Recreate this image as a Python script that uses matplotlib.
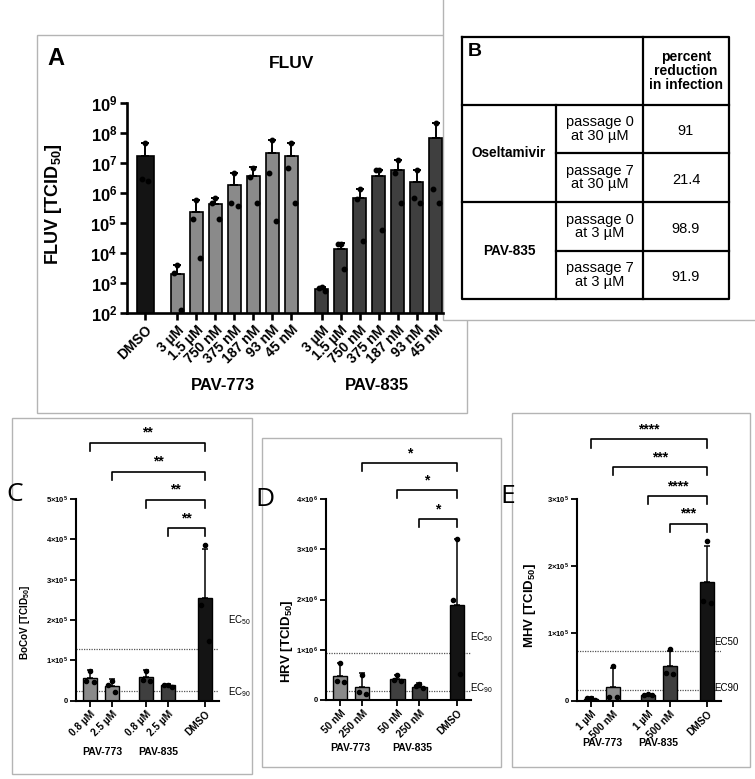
# -*- coding:utf-8 -*-
import numpy as np
import matplotlib
matplotlib.use('Agg')
from matplotlib import pyplot as plt
from matplotlib.patches import Rectangle
from matplotlib.ticker import NullLocator

# 字体设置
plt.rcParams['font.family'] = ['Liberation Sans', 'DejaVu Sans']
plt.rcParams['mathtext.fontset'] = 'custom'
plt.rcParams['mathtext.rm'] = 'Liberation Sans'
plt.rcParams['mathtext.bf'] = 'Liberation Sans:bold'
plt.rcParams['mathtext.it'] = 'Liberation Sans:italic'

# ---------------- 数据 ----------------
# A: FLUV
fluv_doses = ['3 µM', '1.5 µM', '750 nM', '375 nM', '187 nM', '93 nM', '45 nM']
fluv_dmso_mean = 1.75e7
fluv_dmso_top = 4.5e7
fluv_dmso_pts = [4.7e7, 3.0e6, 2.5e6]
fluv_773_mean = [2.0e3, 2.4e5, 4.3e5, 1.8e6, 3.6e6, 2.1e7, 1.75e7]
fluv_773_top = [3.9e3, 5.9e5, 7.0e5, 4.5e6, 7.1e6, 5.8e7, 4.5e7]
fluv_773_pts = [[3.9e3, 2.1e3, 1.3e2], [5.9e5, 1.35e5, 7.0e3], [7.0e5, 4.6e5, 1.35e5],
                [4.5e6, 4.6e5, 3.7e5], [7.0e6, 3.5e6, 4.6e5], [5.8e7, 4.5e6, 1.2e5],
                [4.5e7, 6.9e6, 4.6e5]]
fluv_835_mean = [6.3e2, 1.4e4, 6.9e5, 3.8e6, 6.0e6, 2.3e6, 6.8e7]
fluv_835_top = [7.2e2, 2.1e4, 1.4e6, 5.8e6, 1.3e7, 5.7e6, 2.1e8]
fluv_835_pts = [[7.2e2, 6.6e2, 5.6e2], [2.0e4, 2.0e4, 3.0e3], [1.4e6, 6.5e5, 2.5e4],
                [5.7e6, 5.7e6, 5.9e4], [1.3e7, 4.5e6, 4.6e5], [5.7e6, 7.0e5, 4.8e5],
                [2.1e8, 1.35e6, 4.6e5]]

# B: 表格
tab_header = 'percent\nreduction\nin infection'
tab_drugs = ['Oseltamivir', 'PAV-835']
tab_conds = ['passage 0\nat 30 µM', 'passage 7\nat 30 µM', 'passage 0\nat 3 µM', 'passage 7\nat 3 µM']
tab_values = ['91', '21.4', '98.9', '91.9']

# C: BoCoV
bocov_labels = ['0.8 µM', '2.5 µM', '0.8 µM', '2.5 µM', 'DMSO']
bocov_mean = [5.7e4, 3.7e4, 5.8e4, 3.8e4, 2.55e5]
bocov_top = [7.6e4, 5.4e4, 7.6e4, 4.1e4, 3.77e5]
bocov_pts = [[7.4e4, 4.9e4, 4.6e4], [5.0e4, 3.9e4, 2.2e4], [7.4e4, 5.1e4, 5.0e4],
             [4.0e4, 3.9e4, 3.5e4], [3.85e5, 2.37e5, 1.47e5]]
bocov_ec = [1.28e5, 2.5e4]
bocov_sig = ['**', '**', '**', '**']

# D: HRV
hrv_labels = ['50 nM', '250 nM', '50 nM', '250 nM', 'DMSO']
hrv_mean = [4.8e5, 2.6e5, 4.2e5, 2.6e5, 1.89e6]
hrv_top = [7.4e5, 5.3e5, 5.0e5, 3.3e5, 3.2e6]
hrv_pts = [[7.4e5, 3.75e5, 3.6e5], [5.0e5, 1.6e5, 1.2e5], [5.0e5, 4.0e5, 3.7e5],
           [3.2e5, 2.7e5, 2.3e5], [3.2e6, 2.0e6, 5.2e5]]
hrv_ec = [9.4e5, 1.85e5]
hrv_sig = ['*', '*', '*']

# E: MHV
mhv_labels = ['1 µM', '500 nM', '1 µM', '500 nM', 'DMSO']
mhv_mean = [3.0e3, 2.1e4, 9.0e3, 5.1e4, 1.77e5]
mhv_top = [5.0e3, 4.8e4, 1.0e4, 7.4e4, 2.3e5]
mhv_pts = [[4.5e3, 4.0e3, 5.0e2], [5.2e4, 6.0e3, 6.0e3], [9.5e3, 9.0e3, 8.5e3],
           [7.7e4, 4.1e4, 3.9e4], [2.37e5, 1.48e5, 1.46e5]]
mhv_ec = [7.4e4, 1.6e4]
mhv_sig = ['****', '***', '****', '***']

# ---------------- 画布 ----------------
W, H = 755, 779
fig = plt.figure(figsize=(W / 100, H / 100), dpi=100)


def rect(l, t, r, b):
    """像素框 -> figure 坐标"""
    return [l / W, 1 - b / H, (r - l) / W, (b - t) / H]


# 底层叠加坐标系（像素坐标），画边框、表格和面板字母
ov = fig.add_axes([0, 0, 1, 1], zorder=-1)
ov.set_xlim(0, W)
ov.set_ylim(H, 0)
ov.axis('off')
box_c = '#b4b4b4'
ov.add_patch(Rectangle((37, 35), 430, 378, fill=False, ec=box_c, lw=1, zorder=1))
ov.add_patch(Rectangle((443, -2), 320, 322, fc='white', ec=box_c, lw=1, zorder=2))
ov.add_patch(Rectangle((12, 418), 240, 356, fill=False, ec=box_c, lw=1, zorder=1))
ov.add_patch(Rectangle((262, 438), 239, 329, fill=False, ec=box_c, lw=1, zorder=1))
ov.add_patch(Rectangle((512, 413), 238, 354, fill=False, ec=box_c, lw=1, zorder=1))

# ---------------- A ----------------
dark = '#3f3f3f'
light = '#8a8a8a'
black = '#141414'

ax = fig.add_axes(rect(127, 103, 443, 313), facecolor='none')
ax.set_yscale('log')
x_dmso = np.array([0.0])
x773 = 1.7 + np.arange(len(fluv_doses))
x835 = 9.3 + np.arange(len(fluv_doses))
groups = [(x_dmso, [fluv_dmso_mean], [fluv_dmso_top], [fluv_dmso_pts], black, 0.9),
          (x773, fluv_773_mean, fluv_773_top, fluv_773_pts, light, 0.67),
          (x835, fluv_835_mean, fluv_835_top, fluv_835_pts, dark, 0.67)]
for xs, mean, top, pts, col, w in groups:
    mean = np.array(mean)
    top = np.array(top)
    ax.bar(xs, mean, width=w, color=col, edgecolor='k', linewidth=1.2, zorder=2)
    ax.errorbar(xs, mean, yerr=[np.zeros_like(mean), top - mean], fmt='none', ecolor='k',
                elinewidth=1.4, capsize=3, capthick=1.4, zorder=3)
    for xi, p in zip(xs, pts):
        ax.plot(xi + np.array([0, -0.17, 0.17]), p, 'o', ms=3.2, color='k', zorder=4)
ax.set_ylim(1e2, 1e9)
ax.set_xlim(-0.95, 15.68)
ax.set_yticks([10.0 ** k for k in range(2, 10)])
ax.set_yticklabels([r'$\mathbf{10^{%d}}$' % k for k in range(2, 10)], fontsize=12)
ax.yaxis.set_minor_locator(NullLocator())
xt = np.concatenate([x_dmso, x773, x835])
ax.set_xticks(xt)
ax.set_xticklabels(['DMSO'] + fluv_doses + fluv_doses, rotation=45, ha='right',
                   rotation_mode='anchor', fontsize=10, fontweight='bold')
for s in ['top', 'right']:
    ax.spines[s].set_visible(False)
for s in ['left', 'bottom']:
    ax.spines[s].set_linewidth(1.9)
ax.tick_params(axis='both', width=1.9, length=5, pad=2)
ax.set_ylabel('FLUV [TCID$_{\\mathbf{50}}$]', fontsize=13, fontweight='bold')
ax.yaxis.set_label_coords(-0.2, 0.52)
ov.text(292, 63, 'FLUV', fontsize=12.5, fontweight='bold', ha='center', va='center')
ov.text(56, 58, 'A', fontsize=17, fontweight='bold', ha='center', va='center')
ov.text(223, 385, 'PAV-773', fontsize=12, fontweight='bold', ha='center', va='center')
ov.text(377, 385, 'PAV-835', fontsize=12, fontweight='bold', ha='center', va='center')

# ---------------- B 表格 ----------------
cx = [462, 556, 643, 729]
ry = [37, 105, 153, 202, 251, 299]
tl = dict(color='k', lw=1.6, zorder=3, solid_capstyle='projecting')
ov.plot([cx[0], cx[3], cx[3], cx[0], cx[0]], [ry[0], ry[0], ry[5], ry[5], ry[0]], **tl)
ov.plot([cx[2], cx[2]], [ry[0], ry[5]], **tl)
ov.plot([cx[1], cx[1]], [ry[1], ry[5]], **tl)
ov.plot([cx[0], cx[3]], [ry[1], ry[1]], **tl)
ov.plot([cx[0], cx[3]], [ry[3], ry[3]], **tl)
ov.plot([cx[1], cx[3]], [ry[2], ry[2]], **tl)
ov.plot([cx[1], cx[3]], [ry[4], ry[4]], **tl)
ov.text(468, 43, 'B', fontsize=14, fontweight='bold', ha='left', va='top', zorder=4)
ov.text((cx[2] + cx[3]) / 2, 71, tab_header, fontsize=10, fontweight='bold', ha='center',
        va='center', linespacing=1.0, zorder=4)
for i, d in enumerate(tab_drugs):
    ov.text((cx[0] + cx[1]) / 2, ry[1 + 2 * i + 1], d, fontsize=9.8, fontweight='bold',
            ha='center', va='center', zorder=4)
for i, (c, v) in enumerate(zip(tab_conds, tab_values)):
    yc = (ry[i + 1] + ry[i + 2]) / 2
    ov.text((cx[1] + cx[2]) / 2, yc, c, fontsize=10.5, ha='center', va='center',
            linespacing=0.92, zorder=4)
    ov.text((cx[2] + cx[3]) / 2, yc + 2, v, fontsize=10.5, ha='center', va='center', zorder=4)


# ---------------- C / D / E ----------------
def draw_small(box, labels, mean, top, pts, ymax, step, exp, ec, ec_sub, sig, sig_y,
               ylabel, ylab_x, ylab_y, ylab_fs, letter, letter_xy, grp_xy, ec_lab):
    axs = fig.add_axes(rect(*box), facecolor='none')
    xs = np.array([0, 1, 2.6, 3.6, 5.3])
    cols = [light, light, dark, dark, black]
    mean = np.array(mean)
    top = np.array(top)
    axs.bar(xs, mean, width=0.65, color=cols, edgecolor='k', linewidth=1.0, zorder=2)
    axs.errorbar(xs, mean, yerr=[np.zeros_like(mean), top - mean], fmt='none', ecolor='k',
                 elinewidth=1.1, capsize=2.5, capthick=1.1, zorder=3)
    for xi, p in zip(xs, pts):
        axs.plot(xi + np.array([0, -0.17, 0.17]), p, 'o', ms=3, color='k', zorder=4)
    axs.set_xlim(-0.65, 5.95)
    axs.set_ylim(0, ymax)
    ticks = np.arange(0, ymax + step / 2, step)
    axs.set_yticks(ticks)
    tl_ = ['0'] + [r'$\mathbf{%d{\times}10^{%d}}$' % (round(t / 10 ** exp), exp) for t in ticks[1:]]
    axs.set_yticklabels(tl_, fontsize=5.5, fontweight='bold')
    axs.set_xticks(xs)
    axs.set_xticklabels(labels, rotation=45, ha='right', rotation_mode='anchor',
                        fontsize=7.3, fontweight='bold')
    for s in ['top', 'right']:
        axs.spines[s].set_visible(False)
    for s in ['left', 'bottom']:
        axs.spines[s].set_linewidth(1.5)
    axs.tick_params(axis='both', width=1.3, length=4, pad=2)
    axs.set_ylabel(ylabel, fontsize=ylab_fs, fontweight='bold')
    axs.yaxis.set_label_coords(ylab_x, ylab_y)
    for e in ec:
        axs.axhline(e, color='#555555', lw=0.9, ls=(0, (1, 1)), zorder=1)
    if ec_sub:
        names = ['EC$_{50}$', 'EC$_{90}$']
    else:
        names = ['EC50', 'EC90']
    for n, yy in zip(names, ec_lab[1:]):
        ov.text(ec_lab[0], yy, n, fontsize=7, ha='left', va='center')
    # 显著性括号
    tick_len = ymax * 0.04
    first = len(xs) - 1 - len(sig)
    for k, (s, yb) in enumerate(zip(sig, sig_y)):
        x0 = xs[first + k]
        x1 = xs[-1]
        axs.plot([x0, x0, x1, x1], [yb - tick_len, yb, yb, yb - tick_len], color='k',
                 lw=1.2, clip_on=False, zorder=5)
        axs.text((x0 + x1) / 2, yb + ymax * 0.015, s, fontsize=10, fontweight='bold',
                 ha='center', va='bottom', clip_on=False)
    ov.text(letter_xy[0], letter_xy[1], letter, fontsize=19, ha='center', va='center',
            family=['Open Sans', 'DejaVu Sans'])
    ov.text(grp_xy[0], grp_xy[2], 'PAV-773', fontsize=7.5, fontweight='bold', ha='center', va='center')
    ov.text(grp_xy[1], grp_xy[2], 'PAV-835', fontsize=7.5, fontweight='bold', ha='center', va='center')
    return axs


draw_small((76, 499, 219, 700.7), bocov_labels, bocov_mean, bocov_top, bocov_pts,
           5e5, 1e5, 5, bocov_ec, True, bocov_sig, [6.39e5, 5.67e5, 4.98e5, 4.28e5],
           'BoCoV [TCID$_{\\mathbf{50}}$]', -0.31, 0.39, 7.2, 'C', (15, 494),
           (102, 158, 752), (228, 620, 692))
draw_small((326, 499, 471, 700), hrv_labels, hrv_mean, hrv_top, hrv_pts,
           4e6, 1e6, 6, hrv_ec, True, hrv_sig, [4.71e6, 4.17e6, 3.6e6],
           'HRV [TCID$_{\\mathbf{50}}$]', -0.214, 0.29, 9.5, 'D', (265, 499),
           (350, 412, 748), (470, 637, 688))
draw_small((577, 499, 721, 700.7), mhv_labels, mhv_mean, mhv_top, mhv_pts,
           3e5, 1e5, 5, mhv_ec, False, mhv_sig, [3.885e5, 3.47e5, 3.04e5, 2.63e5],
           'MHV [TCID$_{\\mathbf{50}}$]', -0.27, 0.47, 9.5, 'E', (508, 496),
           (602, 658, 743), (714, 642, 688))

fig.savefig('out.png', dpi=100)
